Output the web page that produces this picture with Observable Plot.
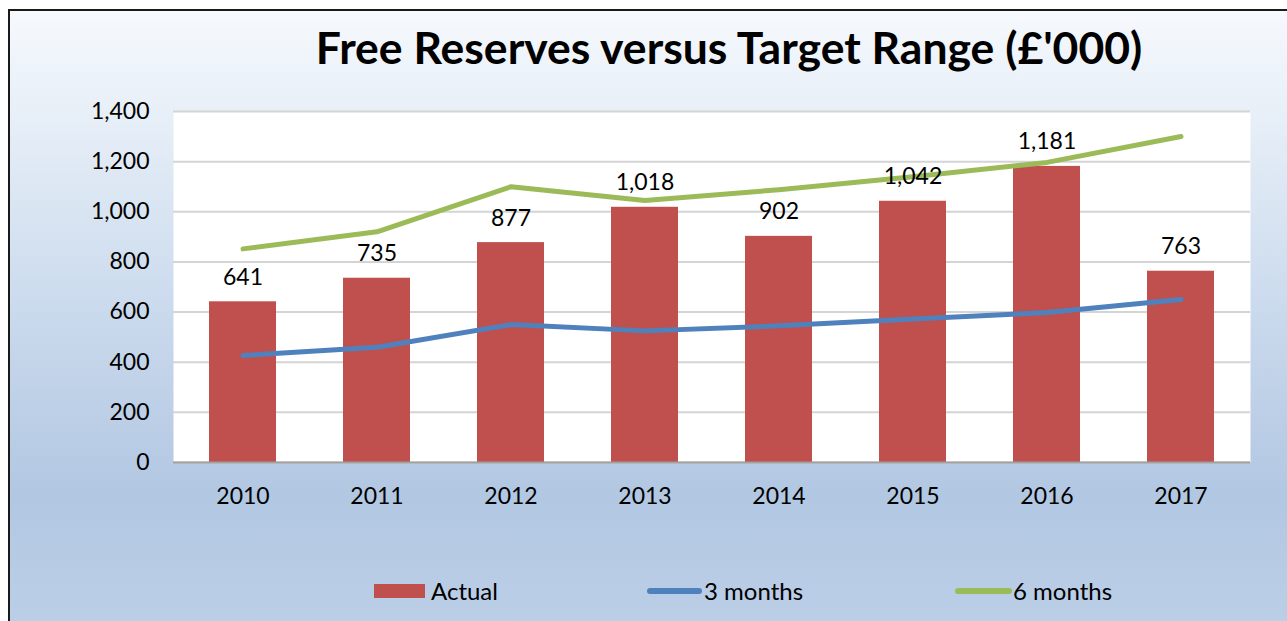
<!DOCTYPE html>
<html>
<head>
<meta charset="utf-8">
<script src="https://cdn.jsdelivr.net/npm/d3@7"></script>
<script src="https://cdn.jsdelivr.net/npm/@observablehq/plot@0.6"></script>
<style>
  html, body { margin: 0; padding: 0; background: #ffffff; }
  #page { position: relative; width: 1287px; height: 621px; overflow: hidden; font-family: Lato, "Open Sans", sans-serif; }
  #box { position: absolute; left: 8px; top: 9px; width: 1290px; height: 620px;
         border-left: 2px solid #1a1a1a; border-top: 2px solid #1a1a1a;
         background: linear-gradient(to bottom, #f6f9fd 0%, #e6eef7 18%, #cddcee 45%, #b2c7e2 78%, #bccfe7 100%); }
  #title { position: absolute; left: 0; width: 1458px; top: 20px; text-align: center;
           font-family: Lato, sans-serif; font-weight: 700; font-size: 44.5px; color: #000; }
  #chart { position: absolute; left: 0; top: 0; }
  .leg { position: absolute; top: 576px; font-family: Lato, sans-serif; font-size: 24px; color: #000; }
  .sw { position: absolute; }
</style>
</head>
<body>
<div id="page">
  <div id="box"></div>
  <div id="title">Free Reserves versus Target Range (£'000)</div>
  <div id="chart"></div>
  <div class="sw" style="left:374px; top:584px; width:51px; height:14px; background:#C0504D;"></div>
  <div class="leg" style="left:431px;">Actual</div>
  <div class="sw" style="left:647px; top:588px; width:55px; height:6px; border-radius:3px; background:#4F81BD;"></div>
  <div class="leg" style="left:704px;">3 months</div>
  <div class="sw" style="left:955px; top:588px; width:57px; height:6px; border-radius:3px; background:#9BBB59;"></div>
  <div class="leg" style="left:1013px;">6 months</div>
</div>
<script>
const years = ["2010", "2011", "2012", "2013", "2014", "2015", "2016", "2017"];
const actual = [641, 735, 877, 1018, 902, 1042, 1181, 763];
const threeMonths = [427, 460, 550, 525, 545, 572, 598, 650];
const sixMonths = [852, 920, 1100, 1045, 1088, 1140, 1197, 1300];
const yTicks = [0, 200, 400, 600, 800, 1000, 1200, 1400];

const rows = years.map((y, i) => ({year: y, actual: actual[i], three: threeMonths[i], six: sixMonths[i]}));
const fmt = d3.format(",");

const chart = Plot.plot({
  width: 1287,
  height: 520,
  marginLeft: 173,
  marginRight: 37,
  marginTop: 111,
  marginBottom: 58,
  style: { background: "transparent", fontFamily: "Lato, sans-serif", fontSize: "23px", color: "#000" },
  x: { domain: years, paddingInner: 0.5, paddingOuter: 0.25, label: null },
  y: { domain: [0, 1400], label: null },
  marks: [
    Plot.frame({ fill: "white", stroke: "none" }),
    Plot.gridY(yTicks, { stroke: "#d4d4d4", strokeOpacity: 1, strokeWidth: 2 }),
    Plot.barY(rows, { x: "year", y: "actual", fill: "#C0504D" }),
    Plot.ruleY([0], { stroke: "#a0a0a0", strokeWidth: 2 }),
    Plot.lineY(rows, { x: "year", y: "three", stroke: "#4F81BD", strokeWidth: 5, strokeLinecap: "round", strokeLinejoin: "round" }),
    Plot.lineY(rows, { x: "year", y: "six", stroke: "#9BBB59", strokeWidth: 5, strokeLinecap: "round", strokeLinejoin: "round" }),
    Plot.text(rows, { x: "year", y: "actual", text: d => fmt(d.actual), dy: -17, lineAnchor: "bottom", fontSize: 23, fill: "#000" }),
    Plot.axisY(yTicks, { tickSize: 0, tickPadding: 24, tickFormat: fmt, fontSize: 23, fill: "#000" }),
    Plot.axisX({ tickSize: 0, tickPadding: 25, fontSize: 23, fill: "#000" })
  ]
});
document.getElementById("chart").appendChild(chart);
</script>
</body>
</html>
